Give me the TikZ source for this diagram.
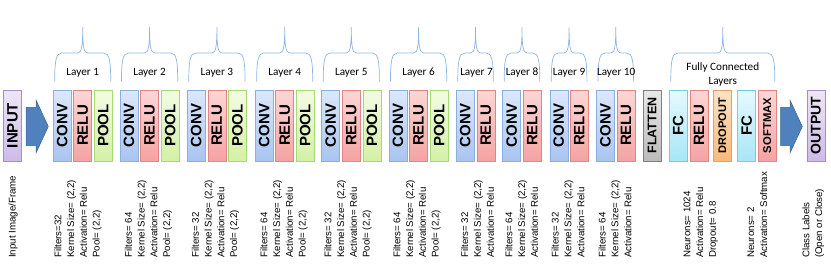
\documentclass[tikz,border=0pt]{standalone}
\usepackage{fontspec}
\setmainfont{Liberation Sans}
\newfontfamily\calfont{Carlito}
\definecolor{convL}{HTML}{DCE8FB}\definecolor{convR}{HTML}{A9C4F0}\definecolor{convD}{HTML}{8AAEE0}
\definecolor{reluL}{HTML}{FCD6D6}\definecolor{reluR}{HTML}{F4A3A3}\definecolor{reluD}{HTML}{E08484}
\definecolor{poolL}{HTML}{F3FBE3}\definecolor{poolR}{HTML}{D4F0A6}\definecolor{poolD}{HTML}{A8D872}
\definecolor{flatL}{HTML}{E8E8E8}\definecolor{flatR}{HTML}{BBBBBB}\definecolor{flatD}{HTML}{7F7F7F}
\definecolor{fcL}{HTML}{E6F9FE}\definecolor{fcR}{HTML}{A8E6F7}\definecolor{fcD}{HTML}{72CDE6}
\definecolor{dropL}{HTML}{FDE2C6}\definecolor{dropR}{HTML}{F8BA7C}\definecolor{dropD}{HTML}{E8A062}
\definecolor{ioL}{HTML}{EEE6F7}\definecolor{ioR}{HTML}{CDBBE7}\definecolor{ioD}{HTML}{A28ECA}
\definecolor{arrF}{HTML}{4F81BD}\definecolor{arrD}{HTML}{3A6598}
\definecolor{brc}{HTML}{8EB4E3}
\tikzset{
  box/.style={rotate=90, minimum width=71pt, minimum height=18pt, inner sep=0pt,
    font=\bfseries\fontsize{15}{15}\selectfont, line width=0.6pt},
  conv/.style={box, draw=convD, top color=convL, bottom color=convR},
  relu/.style={box, draw=reluD, top color=reluL, bottom color=reluR},
  pool/.style={box, draw=poolD, top color=poolL, bottom color=poolR},
  flat/.style={box, draw=flatD, top color=flatL, bottom color=flatR, font=\bfseries\fontsize{12.5}{12.5}\selectfont},
  fc/.style={box, draw=fcD, top color=fcL, bottom color=fcR},
  fcrelu/.style={relu},
  drop/.style={box, draw=dropD, top color=dropL, bottom color=dropR, minimum height=18.6pt, font=\bfseries\fontsize{11}{11}\selectfont},
  smax/.style={relu, font=\bfseries\fontsize{11.3}{11.3}\selectfont},
  io/.style={box, draw=ioD, top color=ioL, bottom color=ioR},
  btm/.style={rotate=90, anchor=west, align=left, inner sep=0pt, font=\fontsize{9.7}{12.8}\selectfont},
  lbl/.style={font=\calfont\fontsize{11.2}{13.5}\selectfont, inner sep=0pt, align=center},
  bracepath/.style={draw=brc, line width=0.7pt},
  bigarrow/.style={fill=arrF, draw=arrD, line width=0.5pt}
}
\newcommand\mybrace[2]{%
  \path[bracepath] (#1,81.5) .. controls (#1,62) and ({#1+1},53) .. ({#1+7},53)
    -- ({(#1+#2)/2-5},53) .. controls ({(#1+#2)/2-1},53) and ({(#1+#2)/2},46) .. ({(#1+#2)/2},27)
    .. controls ({(#1+#2)/2},46) and ({(#1+#2)/2+1},53) .. ({(#1+#2)/2+5},53)
    -- ({#2-7},53) .. controls ({#2-1},53) and (#2,62) .. (#2,81.5);}
\begin{document}
\begin{tikzpicture}[x=1pt,y=-1pt]
\useasboundingbox (0,0) rectangle (831,263);
% input / output
\node[io] (in) at (12.5,125.5) {INPUT};
\node[io, font=\bfseries\fontsize{14}{14}\selectfont] (out) at (815.8,125.5) {OUTPUT};
\path[bigarrow] (26,107.3) -- (36,107.3) -- (36,100) -- (48.3,126.5) -- (36,153) -- (36,145.7) -- (26,145.7) -- cycle;
\path[bigarrow] (780.7,107.3) -- (790,107.3) -- (790,100) -- (802.3,126.5) -- (790,153) -- (790,145.7) -- (780.7,145.7) -- cycle;
% layers 1-6
\node[conv] (c1) at (62.2,125.5) {CONV};
\node[relu] (r1) at (82.7,125.5) {RELU};
\node[pool] (p1) at (103.2,125.5) {POOL};
\node[conv] (c2) at (129,125.5) {CONV};
\node[relu] (r2) at (149.6,125.5) {RELU};
\node[pool] (p2) at (170.2,125.5) {POOL};
\node[conv] (c3) at (196.3,125.5) {CONV};
\node[relu] (r3) at (216.9,125.5) {RELU};
\node[pool] (p3) at (237.5,125.5) {POOL};
\node[conv] (c4) at (264.2,125.5) {CONV};
\node[relu] (r4) at (284.7,125.5) {RELU};
\node[pool] (p4) at (305.2,125.5) {POOL};
\node[conv] (c5) at (330.7,125.5) {CONV};
\node[relu] (r5) at (351.3,125.5) {RELU};
\node[pool] (p5) at (371.9,125.5) {POOL};
\node[conv] (c6) at (398,125.5) {CONV};
\node[relu] (r6) at (418.6,125.5) {RELU};
\node[pool] (p6) at (439.2,125.5) {POOL};
% layers 7-10
\node[conv] (c7) at (465.3,125.5) {CONV};
\node[relu] (r7) at (485.8,125.5) {RELU};
\node[conv] (c8) at (511.7,125.5) {CONV};
\node[relu] (r8) at (532.3,125.5) {RELU};
\node[conv] (c9) at (558.8,125.5) {CONV};
\node[relu] (r9) at (579.4,125.5) {RELU};
\node[conv] (c10) at (605.5,125.5) {CONV};
\node[relu] (r10) at (626.1,125.5) {RELU};
% flatten and FC
\node[flat] (fl) at (652,125.5) {FLATTEN};
\node[fc] (fc1) at (678.3,125.5) {FC};
\node[fcrelu] (fr1) at (699,125.5) {RELU};
\node[drop] (dr) at (722.3,125.5) {DROPOUT};
\node[fc] (fc2) at (746.7,125.5) {FC};
\node[smax] (sm) at (767.3,125.5) {SOFTMAX};
% braces
\mybrace{54.7}{110.7}
\mybrace{121.5}{177.7}
\mybrace{188.8}{245}
\mybrace{256.7}{312.7}
\mybrace{323.2}{379.4}
\mybrace{390.5}{446.7}
\mybrace{457.8}{493.3}
\mybrace{504.2}{539.8}
\mybrace{551.3}{586.9}
\mybrace{598}{633.6}
\mybrace{670.8}{774.8}
% layer labels
\node[lbl] (l1) at (82.7,73) {Layer 1};
\node[lbl] (l2) at (149.6,73) {Layer 2};
\node[lbl] (l3) at (216.9,73) {Layer 3};
\node[lbl] (l4) at (284.7,73) {Layer 4};
\node[lbl] (l5) at (351.3,73) {Layer 5};
\node[lbl] (l6) at (418.6,73) {Layer 6};
\node[lbl] (l7) at (476.5,73) {Layer 7};
\node[lbl] (l8) at (522,73) {Layer 8};
\node[lbl] (l9) at (569.1,73) {Layer 9};
\node[lbl] (l10) at (616.2,73) {Layer 10};
\node[lbl] (lfc) at (722.8,74.7) {Fully Connected\\Layers};
% bottom labels
\node[btm] (bin) at (13,258) {Input Image/Frame};
\node[btm] (b1) at (78,258) {Filters=32\\Kernel Size= (2,2)\\Activation= Relu\\Pool= (2,2)};
\node[btm] (b2) at (148.5,258) {Filters= 64\\Kernel Size= (2,2)\\Activation= Relu\\Pool= (2,2)};
\node[btm] (b3) at (215.5,258) {Filters= 32\\Kernel Size= (2,2)\\Activation= Relu\\Pool= (2,2)};
\node[btm] (b4) at (284,258) {Filters= 64\\Kernel Size= (2,2)\\Activation= Relu\\Pool= (2,2)};
\node[btm] (b5) at (348,258) {Filters= 32\\Kernel Size= (2,2)\\Activation= Relu\\Pool= (2,2)};
\node[btm] (b6) at (417,258) {Filters= 64\\Kernel Size= (2,2)\\Activation= Relu\\Pool= (2,2)};
\node[btm] (b7) at (477.5,258) {Filters= 32\\Kernel Size= (2,2)\\Activation= Relu};
\node[btm] (b8) at (521.7,258) {Filters= 64\\Kernel Size= (2,2)\\Activation= Relu};
\node[btm] (b9) at (568,258) {Filters= 32\\Kernel Size= (2,2)\\Activation= Relu};
\node[btm] (b10) at (615,258) {Filters= 64\\Kernel Size= (2,2)\\Activation= Relu};
\node[btm] (bfc1) at (700.7,258) {Neurons= 1024\\Activation= Relu\\Dropout= 0.8};
\node[btm] (bfc2) at (757.3,258) {Neurons= 2\\Activation= Softmax};
\node[btm] (bout) at (813.3,258) {Class Labels\\(Open or Close)};
\end{tikzpicture}
\end{document}
